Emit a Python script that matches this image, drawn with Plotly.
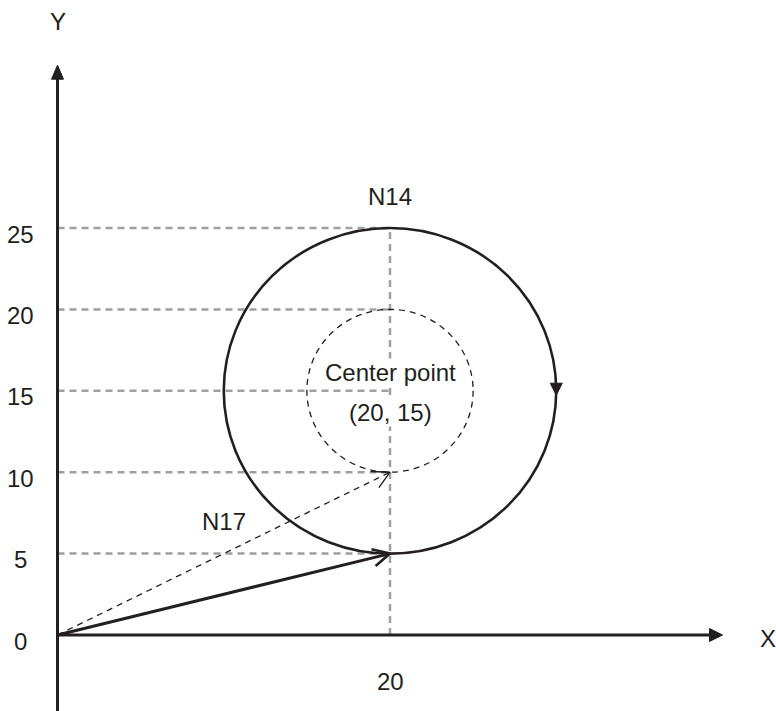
import math
import plotly.graph_objects as go

# ---- data ----
center = (20, 15)
outer_radius = 10
inner_radius = 5
guide_levels = [5, 10, 15, 20, 25]
guide_x = 20
n17_end = (20, 5)
dashed_end = (20, 10)
origin = (0, 0)
x_axis_end = 40
y_axis_end = 35
y_tick_vals = [0, 5, 10, 15, 20, 25]
y_tick_text = ["0", "5", "10", "15", "20", "25"]
x_tick_vals = [20]
x_tick_text = ["20"]

# ---- geometry of the page ----
W, H = 776, 711
SX, SY = 16.625, 16.28          # pixels per unit
X0_PX, Y0_PX = 57.5, 635        # pixel position of origin
xr = [-X0_PX / SX, (W - X0_PX) / SX]
yr = [-(H - Y0_PX) / SY, Y0_PX / SY]

INK = "#231f20"
GRAY = "#a0a0a0"
FONT = "Liberation Sans, Arial, sans-serif"


def unit_px(tip, frm):
    dx = (tip[0] - frm[0]) * SX
    dy = (tip[1] - frm[1]) * SY
    n = math.hypot(dx, dy)
    return dx / n, dy / n


def v_head(tip, frm, length=19, half_angle=28):
    ux, uy = unit_px(tip, frm)
    bx, by = -ux, -uy
    pts = []
    for s in (1, -1):
        a = math.radians(half_angle * s)
        rx = bx * math.cos(a) - by * math.sin(a)
        ry = bx * math.sin(a) + by * math.cos(a)
        pts.append((tip[0] + rx * length / SX, tip[1] + ry * length / SY))
    return [pts[0][0], tip[0], pts[1][0]], [pts[0][1], tip[1], pts[1][1]]


def tri(tip, direction, length=13, half_w=6.5):
    dx, dy = direction
    n = math.hypot(dx, dy)
    ux, uy = dx / n, dy / n
    bx = tip[0] * SX - ux * length
    by = tip[1] * SY - uy * length
    px, py = -uy, ux
    c1 = ((bx + px * half_w) / SX, (by + py * half_w) / SY)
    c2 = ((bx - px * half_w) / SX, (by - py * half_w) / SY)
    base = (bx / SX, by / SY)
    return [tip[0], c1[0], c2[0], tip[0]], [tip[1], c1[1], c2[1], tip[1]], base


fig = go.Figure()

# gray guide lines
for lv in guide_levels:
    fig.add_trace(go.Scatter(x=[origin[0], guide_x], y=[lv, lv], mode="lines",
                             line=dict(color=GRAY, width=2.5, dash="7px,5px"),
                             hoverinfo="skip", showlegend=False))
fig.add_trace(go.Scatter(x=[guide_x, guide_x], y=[origin[1], max(guide_levels)], mode="lines",
                         line=dict(color=GRAY, width=2.5, dash="7px,5px"),
                         hoverinfo="skip", showlegend=False))

# circles
cx, cy = center
shapes = [
    dict(type="circle", xref="x", yref="y",
         x0=cx - outer_radius, x1=cx + outer_radius, y0=cy - outer_radius, y1=cy + outer_radius,
         line=dict(color=INK, width=2.6), layer="above"),
    dict(type="circle", xref="x", yref="y",
         x0=cx - inner_radius, x1=cx + inner_radius, y0=cy - inner_radius, y1=cy + inner_radius,
         line=dict(color=INK, width=1.3, dash="6px,5px"), layer="above"),
]

# dashed diagonal to (20,10)
fig.add_trace(go.Scatter(x=[origin[0], dashed_end[0]], y=[origin[1], dashed_end[1]], mode="lines",
                         line=dict(color=INK, width=1.3, dash="6px,5px"),
                         hoverinfo="skip", showlegend=False))
hx, hy = v_head(dashed_end, origin, length=19, half_angle=28)
fig.add_trace(go.Scatter(x=hx, y=hy, mode="lines", line=dict(color=INK, width=1.4),
                         hoverinfo="skip", showlegend=False))

# solid N17 line
fig.add_trace(go.Scatter(x=[origin[0], n17_end[0]], y=[origin[1], n17_end[1]], mode="lines",
                         line=dict(color=INK, width=3),
                         hoverinfo="skip", showlegend=False))
hx, hy = v_head(n17_end, origin, length=19, half_angle=27)
fig.add_trace(go.Scatter(x=hx, y=hy, mode="lines", line=dict(color=INK, width=2.6),
                         hoverinfo="skip", showlegend=False))

# axes
tx, ty, base = tri((x_axis_end, 0), (1, 0), length=13, half_w=6.5)
fig.add_trace(go.Scatter(x=[origin[0], base[0] + 0.05], y=[0, 0], mode="lines",
                         line=dict(color=INK, width=3), hoverinfo="skip", showlegend=False))
fig.add_trace(go.Scatter(x=tx, y=ty, mode="lines", fill="toself", fillcolor=INK,
                         line=dict(color=INK, width=1), hoverinfo="skip", showlegend=False))
tx, ty, base = tri((0, y_axis_end), (0, 1), length=14, half_w=6)
fig.add_trace(go.Scatter(x=[0, 0], y=[yr[0] - 1, base[1] + 0.05], mode="lines",
                         line=dict(color=INK, width=3), hoverinfo="skip", showlegend=False))
fig.add_trace(go.Scatter(x=tx, y=ty, mode="lines", fill="toself", fillcolor=INK,
                         line=dict(color=INK, width=1), hoverinfo="skip", showlegend=False))

# direction arrow on the circle (clockwise, pointing down at the right side)
tip_pt = (cx + outer_radius, cy - 0.27)
tx, ty, _ = tri(tip_pt, (0, -1), length=12, half_w=6)
fig.add_trace(go.Scatter(x=tx, y=ty, mode="lines", fill="toself", fillcolor=INK,
                         line=dict(color=INK, width=1), hoverinfo="skip", showlegend=False))

# ---- text ----
ann = []
fs = 24
for v, t in zip(y_tick_vals, y_tick_text):
    ann.append(dict(x=-2.2, y=v, text=t, showarrow=False, xanchor="center", yanchor="middle",
                    yshift=-6, font=dict(size=fs, color=INK, family=FONT)))
for v, t in zip(x_tick_vals, x_tick_text):
    ann.append(dict(x=v, y=0, text=t, showarrow=False, xanchor="center", yanchor="middle",
                    yshift=-46, font=dict(size=fs, color=INK, family=FONT)))
ann.append(dict(x=0, y=y_axis_end, text="Y", showarrow=False, xanchor="center", yanchor="middle",
                yshift=44, font=dict(size=fs, color=INK, family=FONT)))
ann.append(dict(x=x_axis_end, y=0, text="X", showarrow=False, xanchor="center", yanchor="middle",
                xshift=45, yshift=-3, font=dict(size=fs, color=INK, family=FONT)))
ann.append(dict(x=cx, y=cy + outer_radius, text="N14", showarrow=False, xanchor="center",
                yanchor="middle", yshift=32, font=dict(size=fs, color=INK, family=FONT)))
ann.append(dict(x=10, y=n17_end[1], text="N17", showarrow=False, xanchor="center",
                yanchor="middle", xshift=0, yshift=32, font=dict(size=fs, color=INK, family=FONT)))
ann.append(dict(x=cx, y=cy, text="Center point", showarrow=False, xanchor="center",
                yanchor="middle", yshift=18, bgcolor="white", borderpad=0,
                font=dict(size=fs, color=INK, family=FONT)))
ann.append(dict(x=cx, y=cy, text=f"({cx}, {cy})", showarrow=False, xanchor="center",
                yanchor="middle", yshift=-22, bgcolor="white", borderpad=0,
                font=dict(size=fs, color=INK, family=FONT)))

fig.update_layout(
    width=W, height=H, margin=dict(l=0, r=0, t=0, b=0),
    paper_bgcolor="white", plot_bgcolor="white",
    xaxis=dict(range=xr, visible=False, fixedrange=True),
    yaxis=dict(range=yr, visible=False, fixedrange=True),
    shapes=shapes, annotations=ann, showlegend=False,
)

fig.write_html("out.html", config={"displayModeBar": False},
               post_script="document.body.style.margin='0';document.body.style.overflow='hidden';")
